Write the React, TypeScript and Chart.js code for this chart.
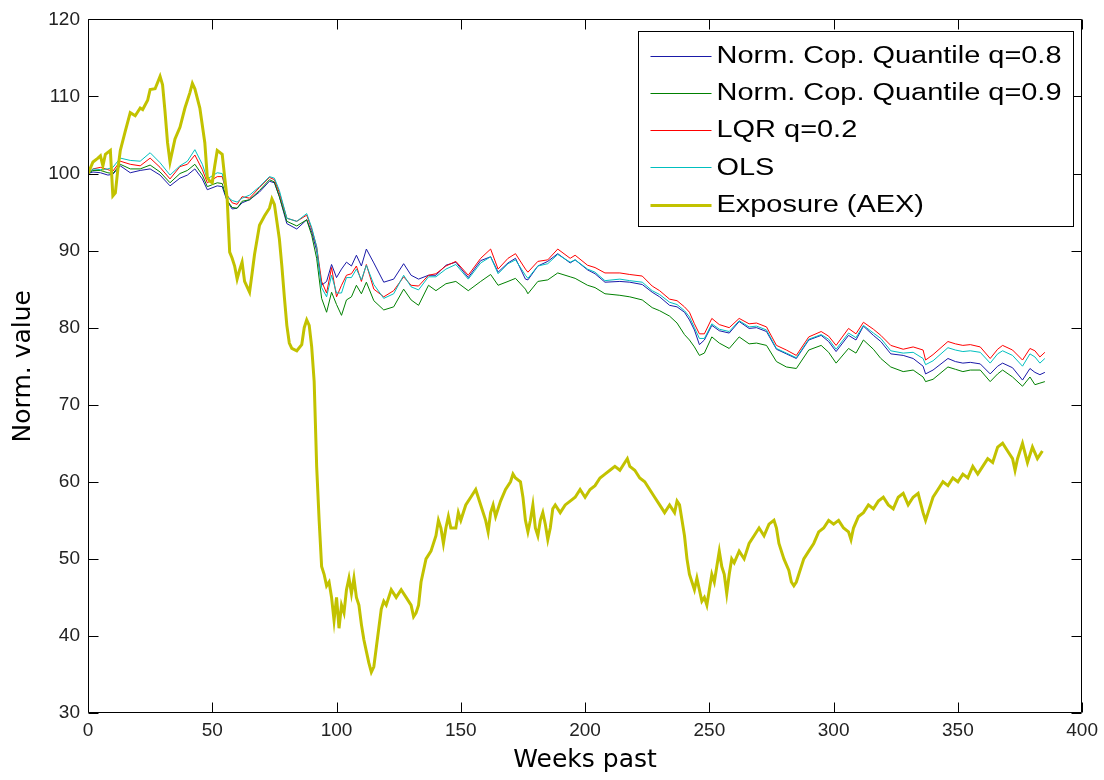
import React, { useEffect, useRef } from "react";
import { Chart, registerables } from "chart.js";

Chart.register(...registerables);

// ---- data ----
const weeks = [
  0, 2, 5, 8, 10, 13, 17, 21, 25, 29,
  33, 37, 40, 43, 46, 48, 52, 54, 56, 58,
  60, 62, 65, 69, 73, 75, 77, 80, 84, 88,
  90, 92, 94, 96, 98, 100, 102, 104, 106, 108,
  110, 112, 115, 119, 123, 127, 130, 133, 137, 140,
  144, 148, 153, 158, 162, 165, 169, 172, 176, 177,
  181, 185, 189, 194, 196, 201, 204, 208, 214, 218,
  223, 227, 230, 234, 237, 240, 242, 244, 246, 248,
  251, 254, 258, 262, 266, 269, 273, 277, 281, 285,
  290, 295, 298, 301, 306, 309, 312, 316, 319, 323,
  328, 332, 336, 337, 340, 346, 349, 352, 355, 359,
  363, 366, 368, 372, 376, 379, 381, 383, 385,
];

const quantile08 = [
  100, 100.2, 100.1, 99.8, 99.9, 101.0, 100.1, 100.4, 100.6, 99.8,
  98.4, 99.4, 99.8, 100.6, 99.3, 97.9, 98.4, 98.3, 96.4, 95.4,
  95.5, 96.2, 96.6, 97.6, 99.0, 98.8, 97.0, 93.5, 92.8, 94.0,
  92.4, 90.0, 85.5, 86.0, 88.2, 86.5, 87.6, 88.5, 88.0, 89.4,
  88.0, 90.2, 88.4, 85.9, 86.3, 88.3, 86.8, 86.3, 86.8, 86.8,
  88.1, 88.5, 86.5, 88.7, 89.2, 87.2, 88.4, 89.0, 86.3, 86.2,
  88.0, 88.6, 89.6, 88.4, 88.8, 87.5, 87.0, 85.9, 86.0, 85.9,
  85.6, 84.6, 84.0, 82.9, 82.7, 82.0, 81.0, 79.7, 77.8, 78.4,
  80.3, 79.6, 79.3, 80.8, 79.9, 80.0, 79.5, 77.2, 76.6, 76.0,
  78.4, 79.0, 78.2, 76.9, 79.0, 78.4, 80.2, 79.0, 78.2, 76.6,
  76.4, 76.0, 75.0, 74.0, 74.5, 76.0, 75.6, 75.4, 75.5, 75.3,
  74.0, 75.0, 75.4, 74.8, 73.2, 74.7, 74.2, 73.9, 74.2,
];

const quantile09 = [
  100, 100.4, 100.4, 100.1, 100.0, 101.2, 100.6, 100.6, 101.1, 100.2,
  98.8, 100.0, 100.4, 101.2, 99.8, 98.3, 98.8, 98.7, 96.5, 95.6,
  95.5, 96.4, 96.6, 97.8, 99.2, 98.9, 97.0, 93.8, 93.2, 94.0,
  92.0, 89.0, 83.8, 82.0, 84.6, 83.0, 81.6, 83.6, 84.0, 85.5,
  84.4, 85.9, 83.5, 82.3, 82.7, 85.0, 83.6, 82.9, 85.5, 84.8,
  85.7, 86.0, 84.8, 86.0, 86.9, 85.5, 86.0, 86.4, 85.0, 84.4,
  86.0, 86.2, 87.1, 86.6, 86.4, 85.5, 85.2, 84.4, 84.2, 84.0,
  83.6, 82.6, 82.2, 81.5, 80.6, 79.1, 78.4, 77.5, 76.4, 76.7,
  78.8, 78.0, 77.3, 78.8, 77.9, 78.0, 77.7, 75.6, 74.9, 74.7,
  77.1, 77.7, 76.8, 75.4, 77.3, 76.7, 78.4, 77.2, 76.0, 74.9,
  74.3, 74.5, 73.6, 73.0, 73.3, 74.9, 74.6, 74.3, 74.5, 74.5,
  73.0, 74.0, 74.5, 73.6, 72.4, 73.6, 72.6, 72.8, 73.0,
];

const lqr02 = [
  100, 100.6, 100.8, 100.5, 100.3, 101.6, 101.2, 101.0, 102.0, 100.8,
  99.3, 100.9, 101.2, 102.4, 100.5, 98.8, 99.6, 99.6, 97.2, 96.2,
  96.0, 97.0, 96.8, 98.2, 99.5, 99.2, 97.5, 94.2, 93.8, 94.6,
  92.8, 90.5, 86.0, 84.5, 87.8, 84.0, 85.5, 86.8, 87.0, 88.0,
  86.0, 88.2, 85.0, 84.0, 84.8, 86.6, 85.5, 85.4, 86.8, 87.0,
  88.0, 88.6, 86.8, 89.0, 90.2, 87.6, 89.0, 89.6, 87.6, 87.2,
  88.6, 88.8, 90.2, 89.0, 89.4, 88.1, 87.8, 87.1, 87.1, 86.9,
  86.7, 85.4, 84.8, 83.7, 83.5, 82.7, 82.0, 80.5, 79.2, 79.2,
  81.2, 80.4, 80.0, 81.2, 80.5, 80.6, 80.1, 77.7, 77.1, 76.4,
  78.8, 79.5, 78.9, 77.7, 79.9, 79.2, 80.7, 79.8, 79.0, 77.7,
  77.2, 77.5, 77.1, 75.8, 76.5, 78.2, 77.9, 77.7, 77.8, 77.5,
  76.0, 77.2, 77.7, 77.1, 75.8, 77.3, 77.0, 76.2, 76.8,
];

const ols = [
  100, 100.6, 100.5, 100.6, 100.8, 102.0, 101.7, 101.6, 102.7, 101.4,
  99.8, 101.0, 101.6, 103.1, 101.2, 99.3, 100.1, 100.0, 97.0, 96.5,
  96.3, 96.8, 97.2, 98.3, 99.6, 99.4, 97.8, 94.2, 93.8, 94.8,
  93.0, 90.5, 85.2, 84.0, 86.8, 84.5, 84.5, 86.5, 86.5, 87.6,
  86.2, 88.1, 85.6, 83.8, 84.4, 86.8, 85.3, 84.9, 86.6, 86.6,
  87.6, 88.2, 86.3, 88.4, 89.2, 87.0, 88.3, 88.8, 86.8, 86.4,
  88.0, 88.3, 89.5, 88.5, 88.8, 87.6, 87.2, 86.1, 86.3, 86.1,
  85.9, 84.8, 84.3, 83.3, 83.0, 82.2, 81.4, 80.0, 78.6, 78.6,
  80.5, 79.8, 79.5, 80.9, 80.1, 80.2, 79.7, 77.3, 76.7, 76.1,
  78.5, 79.1, 78.5, 77.2, 79.3, 78.7, 80.3, 79.3, 78.6, 77.0,
  76.7, 76.8, 76.0, 75.2, 75.7, 77.4, 77.1, 76.9, 77.0, 76.8,
  75.4, 76.6, 77.0, 76.4, 75.0, 76.6, 76.2, 75.4, 76.0,
];

const exposureWeeks = [
  0, 2, 4, 5, 6, 7, 9, 10, 11, 12, 13, 15, 17, 19, 21, 22, 24, 25, 27, 29,
  30, 31, 32, 33, 34, 35, 37, 39, 41, 42, 43, 45, 47, 48, 49, 50, 51, 52, 54, 55,
  56, 57, 58, 59, 60, 61, 62, 63, 65, 66, 67, 69, 71, 73, 74, 75, 77, 78, 79, 80,
  81, 82, 84, 86, 87, 88, 89, 90, 91, 92, 93, 94, 95, 96, 97, 98, 99, 100, 101, 102,
  103, 104, 105, 106, 107, 108, 109, 110, 111, 112, 113, 114, 115, 116, 117, 118, 119, 120, 122, 124,
  126, 128, 130, 131, 132, 133, 134, 136, 138, 140, 141, 142, 143, 144, 145, 146, 148, 149, 150, 152,
  154, 156, 157, 158, 160, 161, 162, 163, 164, 166, 168, 170, 171, 172, 174, 175, 176, 177, 178, 179,
  180, 181, 182, 183, 184, 185, 186, 187, 188, 190, 192, 194, 196, 198, 200, 202, 204, 206, 208, 210,
  212, 214, 216, 217, 218, 220, 222, 224, 226, 228, 230, 232, 234, 236, 237, 238, 239, 240, 241, 242,
  243, 244, 245, 246, 247, 248, 249, 250, 251, 252, 253, 254, 255, 256, 257, 258, 259, 260, 262, 264,
  266, 268, 270, 272, 274, 276, 277, 278, 280, 282, 283, 284, 285, 286, 288, 290, 292, 294, 296, 298,
  300, 302, 304, 306, 307, 308, 310, 312, 314, 316, 318, 320, 322, 324, 326, 328, 330, 332, 334, 336,
  337, 338, 340, 342, 344, 346, 348, 350, 352, 354, 356, 358, 360, 362, 364, 366, 368, 370, 372, 373,
  374, 376, 378, 380, 382, 384,
];

const exposure = [
  100, 101.5, 102, 102.3, 101, 102.5, 103, 97.1, 97.5, 100.5, 103, 105.5, 107.9, 107.5, 108.5, 108.3, 109.5, 110.9, 111, 112.6,
  111.5, 108, 104, 101.5, 103, 104.5, 106, 108.5, 110.5, 111.7, 111, 108.5, 104, 99.5, 99, 98.8, 101, 103, 102.5, 99.5,
  96.7, 89.8, 89, 88, 86.3, 87.5, 88.5, 86, 84.6, 87, 89.5, 93.3, 94.5, 95.5, 96.7, 96, 91.5, 88, 84, 80.3,
  78, 77.3, 77, 77.8, 80, 81, 80.3, 77.5, 73, 62, 55, 49, 48, 46.5, 47, 45, 42, 45, 41, 44,
  43, 46, 47.5, 45.5, 47.5, 45, 44, 41.5, 39.5, 38, 36.5, 35.3, 36, 38.5, 41, 43.5, 44.5, 44, 46, 45,
  46, 45, 44, 42.5, 43, 44, 47, 50, 51, 53, 55, 54, 52, 54, 55.5, 54, 54, 56, 55, 57,
  58, 59, 58, 57, 55, 53.5, 56, 57, 55.5, 57.5, 59, 60, 61, 60.5, 60, 58, 55, 53.5, 55, 57,
  54, 53, 55, 56, 54.5, 52.5, 54, 56.5, 57, 56, 57, 57.5, 58, 59, 58, 59, 59.5, 60.5, 61, 61.5,
  62, 61.5, 62.5, 63, 62, 61.5, 60.5, 60, 59, 58, 57, 56, 57, 56, 57.5, 57, 55, 53, 50, 48,
  47, 46, 47.5, 46, 44.5, 45, 44, 46, 48, 47, 49, 51, 49, 48, 45.5, 48, 50, 49.5, 51, 50,
  52, 53, 54, 53, 54.5, 55, 54, 52, 50, 48.5, 47, 46.5, 47, 48, 50, 51, 52, 53.5, 54, 55,
  54.5, 55, 54, 53.5, 52.5, 54, 55.5, 56, 57, 56.5, 57.5, 58, 57, 56.5, 58, 58.5, 57, 58, 58.5, 56,
  55, 56, 58, 59, 60, 59.5, 60.5, 60, 61, 60.5, 62, 61, 62, 63, 62.5, 64.5, 65, 64, 63, 61.5,
  63, 65, 62.5, 64.5, 63, 64,
];

const xTicks = [0, 50, 100, 150, 200, 250, 300, 350, 400];
const yTicks = [30, 40, 50, 60, 70, 80, 90, 100, 110, 120];

const seriesLabels = [
  "Norm. Cop. Quantile q=0.8",
  "Norm. Cop. Quantile q=0.9",
  "LQR q=0.2",
  "OLS",
  "Exposure (AEX)",
];
const seriesColors = ["#1a1aa8", "#008000", "#ff0000", "#00bfbf", "#c2c200"];
const seriesWidths = [1, 1, 1, 1, 3];

const xTitle = "Weeks past";
const yTitle = "Norm. value";

const toPoints = (xs: number[], ys: number[]) => xs.map((x, i) => ({ x, y: ys[i] }));

const boxAndLegendPlugin = {
  id: "matlabBoxLegend",
  afterDatasetsDraw(chart: any) {
    const { ctx, chartArea, scales } = chart;
    const { left, right, top, bottom } = chartArea;
    const xs = scales.x;
    const ys = scales.y;
    ctx.save();
    // axes box with inward ticks on all four sides
    ctx.strokeStyle = "#000";
    ctx.lineWidth = 1;
    ctx.beginPath();
    const L = Math.round(left) + 0.5;
    const R = Math.round(right) - 0.5;
    const T = Math.round(top) + 0.5;
    const B = Math.round(bottom) - 0.5;
    ctx.rect(L, T, R - L, B - T);
    const tl = 10;
    xTicks.forEach((v) => {
      const p = Math.round(xs.getPixelForValue(v)) + 0.5;
      ctx.moveTo(p, B);
      ctx.lineTo(p, B - tl);
      ctx.moveTo(p, T);
      ctx.lineTo(p, T + tl);
    });
    yTicks.forEach((v) => {
      const p = Math.round(ys.getPixelForValue(v)) + 0.5;
      ctx.moveTo(L, p);
      ctx.lineTo(L + tl, p);
      ctx.moveTo(R, p);
      ctx.lineTo(R - tl, p);
    });
    ctx.stroke();

    // legend box (upper right, inside axes)
    const lw = 435;
    const lh = 195;
    const lx = Math.round(right - 444) + 0.5;
    const ly = Math.round(top + 12) + 0.5;
    ctx.fillStyle = "#fff";
    ctx.fillRect(lx, ly, lw, lh);
    ctx.strokeStyle = "#000";
    ctx.lineWidth = 1;
    ctx.strokeRect(lx, ly, lw, lh);

    ctx.font = '23px "Liberation Sans", Arial, sans-serif';
    const maxW = Math.max(...seriesLabels.map((s) => ctx.measureText(s).width));
    const sx = 345 / maxW;
    seriesLabels.forEach((label, i) => {
      const ry = ly + 24 + i * 37.3;
      ctx.beginPath();
      ctx.strokeStyle = seriesColors[i];
      ctx.lineWidth = seriesWidths[i];
      ctx.moveTo(lx + 12, Math.round(ry) + 0.5);
      ctx.lineTo(lx + 73, Math.round(ry) + 0.5);
      ctx.stroke();
      ctx.save();
      ctx.translate(lx + 78, ry);
      ctx.scale(sx, 1);
      ctx.fillStyle = "#000";
      ctx.textAlign = "left";
      ctx.textBaseline = "middle";
      ctx.fillText(label, 0, 1);
      ctx.restore();
    });
    ctx.restore();
  },
};

export default function App() {
  const canvasRef = useRef<HTMLCanvasElement | null>(null);

  useEffect(() => {
    const canvas = canvasRef.current;
    if (!canvas) return;
    const order = [4, 3, 2, 1, 0];
    const values = [quantile08, quantile09, lqr02, ols];
    const datasets: any[] = values.map((v, i) => ({
      label: seriesLabels[i],
      data: toPoints(weeks, v),
      borderColor: seriesColors[i],
      backgroundColor: seriesColors[i],
      borderWidth: seriesWidths[i],
      pointRadius: 0,
      tension: 0,
      fill: false,
      order: order[i],
    }));
    datasets.push({
      label: seriesLabels[4],
      data: toPoints(exposureWeeks, exposure),
      borderColor: seriesColors[4],
      backgroundColor: seriesColors[4],
      borderWidth: seriesWidths[4],
      pointRadius: 0,
      tension: 0,
      fill: false,
      order: 0,
    });

    const tickFont = { family: '"Liberation Sans", Arial, sans-serif', size: 19 };
    const titleFont = { family: '"DejaVu Sans", sans-serif', size: 25 };

    const chart = new Chart(canvas, {
      type: "line",
      data: { datasets },
      plugins: [boxAndLegendPlugin],
      options: {
        responsive: false,
        animation: false,
        devicePixelRatio: 1,
        layout: { padding: { left: 0, right: 20, top: 16, bottom: 0 } },
        plugins: {
          legend: { display: false },
          tooltip: { enabled: false },
          title: { display: false },
        },
        elements: { point: { radius: 0 }, line: { tension: 0 } },
        scales: {
          x: {
            type: "linear",
            position: "bottom",
            min: 0,
            max: 400,
            afterFit: (s: any) => {
              s.height = 67;
            },
            afterBuildTicks: (s: any) => {
              s.ticks = xTicks.map((v) => ({ value: v }));
            },
            grid: { display: false, drawTicks: false },
            border: { display: false },
            ticks: {
              font: tickFont,
              color: "#222",
              padding: 6,
              maxRotation: 0,
              autoSkip: false,
            },
            title: {
              display: true,
              text: xTitle,
              color: "#000",
              font: titleFont,
              padding: { top: 0, bottom: 5 },
            },
          },
          y: {
            type: "linear",
            position: "left",
            min: 30,
            max: 120,
            afterFit: (s: any) => {
              s.width = 88;
            },
            afterBuildTicks: (s: any) => {
              s.ticks = yTicks.map((v) => ({ value: v }));
            },
            grid: { display: false, drawTicks: false },
            border: { display: false },
            ticks: {
              font: tickFont,
              color: "#222",
              padding: 8,
              autoSkip: false,
            },
            title: {
              display: true,
              text: yTitle,
              color: "#000",
              font: titleFont,
              padding: { top: 8, bottom: 0 },
            },
          },
        },
      },
    } as any);

    return () => {
      chart.destroy();
    };
  }, []);

  return (
    <div
      style={{
        position: "fixed",
        left: 0,
        top: 0,
        width: 1104,
        height: 780,
        background: "#fff",
      }}
    >
      <canvas ref={canvasRef} width={1104} height={780} style={{ display: "block" }} />
    </div>
  );
}
